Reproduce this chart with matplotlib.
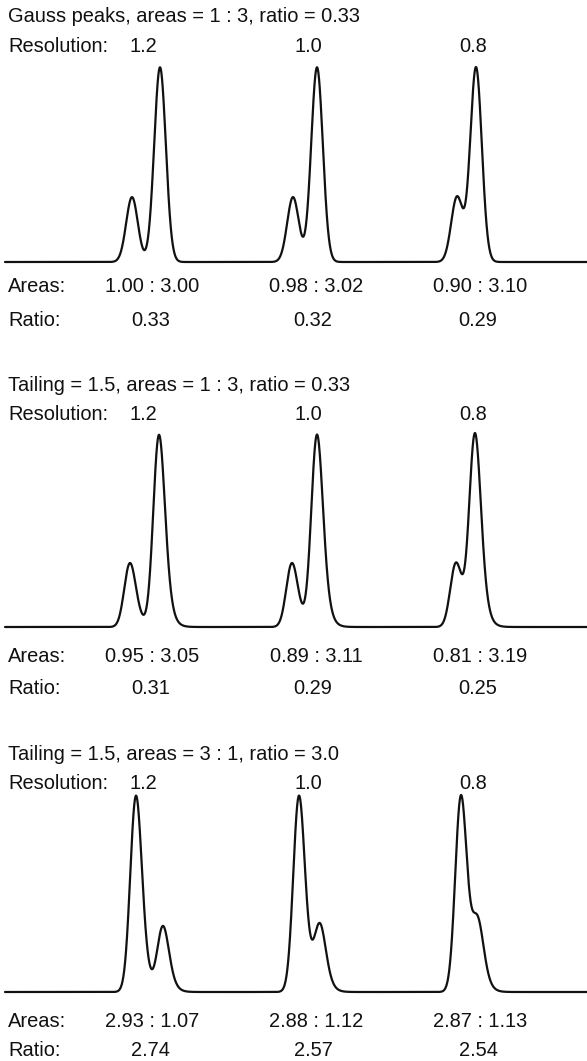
import numpy as np
import matplotlib.pyplot as plt

plt.rcParams["font.family"] = ["Liberation Sans", "DejaVu Sans"]

W, H = 587, 1061

## panel data
titles = ["Gauss peaks, areas = 1 : 3, ratio = 0.33",
          "Tailing = 1.5, areas = 1 : 3, ratio = 0.33",
          "Tailing = 1.5, areas = 3 : 1, ratio = 3.0"]
resolutions = ["1.2", "1.0", "0.8"]
true_areas = [[1, 3], [1, 3], [3, 1]]

## retention times (peak maxima) of first / second peak
rt_first = [[132, 293, 457], [130, 292, 456], [136, 299, 461]]
rt_second = [[160, 317, 476], [159, 317, 475], [163, 320, 478]]

## peak shape: gaussian width and exponential tail (0 = pure gauss)
gauss_sigma = [5.8, 5.2, 5.2]
tail_tau = [0.0, 3.7, 3.7]

found_areas = [["1.00 : 3.00", "0.98 : 3.02", "0.90 : 3.10"],
               ["0.95 : 3.05", "0.89 : 3.11", "0.81 : 3.19"],
               ["2.93 : 1.07", "2.88 : 1.12", "2.87 : 1.13"]]
found_ratios = [["0.33", "0.32", "0.29"],
                ["0.31", "0.29", "0.25"],
                ["2.74", "2.57", "2.54"]]

## layout in pixels (baseline / top of the traces, text baselines)
trace_base = [262, 627, 992]
trace_top = [67, 433, 795]
title_y = [22, 391, 760]
res_y = [52, 420, 789]
areas_y = [292, 662, 1027]
ratio_y = [326, 694, 1056]
res_x = [143, 308, 473]
areas_x = [152, 316, 480]
ratio_x = [151, 313, 478]

fs = 14.4
lc = "#111111"

dx = 0.1
x = np.arange(5, W + dx, dx)


def trace(p):
    s, tau = gauss_sigma[p], tail_tau[p]
    if tau > 0:
        t = np.arange(0, 12 * tau, dx)
        kern = np.exp(-t / tau)
        kern /= kern.sum()
        # shift of the maximum caused by the tail
        g = np.exp(-(x - 300) ** 2 / (2 * s ** 2))
        shift = x[np.argmax(np.convolve(g, kern)[:len(x)])] - 300
    else:
        shift = 0
    y = np.zeros_like(x)
    for k in range(3):
        for rt, a in ((rt_first[p][k], true_areas[p][0]), (rt_second[p][k], true_areas[p][1])):
            y += a * np.exp(-(x - rt + shift) ** 2 / (2 * s ** 2))
    if tau > 0:
        y = np.convolve(y, kern)[:len(x)]
    return y / y.max()


def ftext(xp, yp, s, ha="left"):
    fig.text(xp / W, 1 - yp / H, s, ha=ha, va="baseline", fontsize=fs, color=lc)


fig = plt.figure(figsize=(W / 100, H / 100), dpi=100)

for p in range(3):
    ax = fig.add_axes([0, 1 - trace_base[p] / H, 1, (trace_base[p] - trace_top[p]) / H])
    ax.plot(x, trace(p), color=lc, lw=1.6, clip_on=False, solid_capstyle="round")
    ax.set_xlim(0, W)
    ax.set_ylim(0, 1)
    ax.axis("off")

    ftext(8, title_y[p], titles[p])
    ftext(8, res_y[p], "Resolution:")
    ftext(8, areas_y[p], "Areas:")
    ftext(8, ratio_y[p], "Ratio:")
    for k in range(3):
        ftext(res_x[k], res_y[p], resolutions[k], ha="center")
        ftext(areas_x[k], areas_y[p], found_areas[p][k], ha="center")
        ftext(ratio_x[k], ratio_y[p], found_ratios[p][k], ha="center")

fig.savefig("out.png", dpi=100)
